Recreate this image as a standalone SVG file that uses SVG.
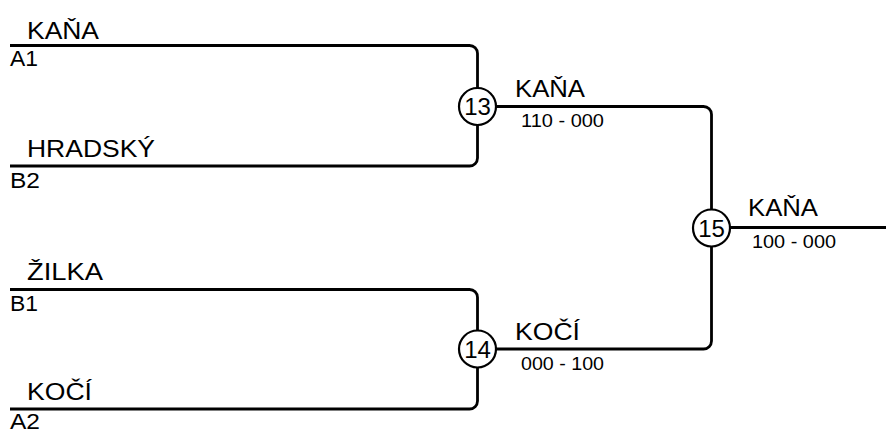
<svg xmlns="http://www.w3.org/2000/svg" width="886" height="433" viewBox="0 0 886 433">
<style>
.ln{fill:none;stroke:#000;stroke-width:2.8;stroke-linejoin:round}
.nm{font-family:"Liberation Sans",Arial,sans-serif;font-size:24px;fill:#000}
.sd{font-family:"Liberation Sans",Arial,sans-serif;font-size:22px;fill:#000}
.sc{font-family:"Liberation Sans",Arial,sans-serif;font-size:18px;fill:#000}
.cn{font-family:"Liberation Sans",Arial,sans-serif;font-size:24px;fill:#000;text-anchor:middle}
.cc{fill:#fff;stroke:#000;stroke-width:2.2}
</style>
<g id="connectors">
<path class="ln" d="M10,45.5 H469.5 A8,8 0 0 1 477.5,53.5 V158 A8,8 0 0 1 469.5,166 H10"/>
<path class="ln" d="M10,289.5 H469.5 A8,8 0 0 1 477.5,297.5 V401 A8,8 0 0 1 469.5,409 H10"/>
<path class="ln" d="M477.5,106.5 H703.5 A8,8 0 0 1 711.5,114.5 V341 A8,8 0 0 1 703.5,349 H477.5"/>
<path class="ln" d="M711.5,227.5 H886"/>
</g>
<g id="slot-a1">
<text class="nm" x="27" y="39" textLength="72" lengthAdjust="spacingAndGlyphs">KAŇA</text>
<text class="sd" x="10" y="66" textLength="28" lengthAdjust="spacingAndGlyphs">A1</text>
</g>
<g id="slot-b2">
<text class="nm" x="27" y="157" textLength="128" lengthAdjust="spacingAndGlyphs">HRADSKÝ</text>
<text class="sd" x="10" y="188" textLength="30" lengthAdjust="spacingAndGlyphs">B2</text>
</g>
<g id="slot-b1">
<text class="nm" x="27" y="280" textLength="76" lengthAdjust="spacingAndGlyphs">ŽILKA</text>
<text class="sd" x="10" y="311" textLength="28" lengthAdjust="spacingAndGlyphs">B1</text>
</g>
<g id="slot-a2">
<text class="nm" x="27" y="400" textLength="65" lengthAdjust="spacingAndGlyphs">KOČÍ</text>
<text class="sd" x="10" y="429" textLength="30" lengthAdjust="spacingAndGlyphs">A2</text>
</g>
<g id="match-13">
<circle class="cc" cx="477.5" cy="106.5" r="18.5"/>
<text class="cn" x="477.5" y="115">13</text>
<text class="nm" x="515" y="97" textLength="70" lengthAdjust="spacingAndGlyphs">KAŇA</text>
<text class="sc" x="521" y="127" textLength="83" lengthAdjust="spacingAndGlyphs">110 - 000</text>
</g>
<g id="match-14">
<circle class="cc" cx="477.5" cy="349" r="18.5"/>
<text class="cn" x="477.5" y="357.5">14</text>
<text class="nm" x="515" y="340" textLength="65" lengthAdjust="spacingAndGlyphs">KOČÍ</text>
<text class="sc" x="521" y="370" textLength="83" lengthAdjust="spacingAndGlyphs">000 - 100</text>
</g>
<g id="match-15">
<circle class="cc" cx="711.5" cy="228" r="18.5"/>
<text class="cn" x="711.5" y="236.5">15</text>
<text class="nm" x="748" y="216" textLength="70" lengthAdjust="spacingAndGlyphs">KAŇA</text>
<text class="sc" x="752" y="248" textLength="84" lengthAdjust="spacingAndGlyphs">100 - 000</text>
</g>
</svg>
